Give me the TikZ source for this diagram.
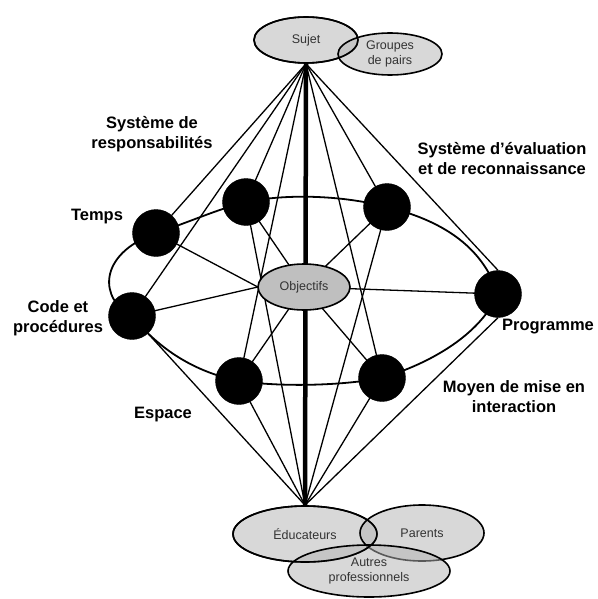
\documentclass[tikz,border=0pt]{standalone}
\usepackage{fontspec}
\setmainfont{Liberation Sans}
\usetikzlibrary{shapes.geometric}
\begin{document}
\begin{tikzpicture}[x=1pt,y=-1pt,
  lbl/.style={font=\bfseries\fontsize{16.5}{20}\selectfont, align=center, text=black, inner sep=0pt},
  oval/.style={ellipse, draw=black, line width=1.6pt, fill=black!30, fill opacity=0.5, text opacity=1,
    text=black!80, font=\fontsize{12.5}{15}\selectfont, align=center, inner sep=0pt},
  hub/.style={ellipse, draw=none, fill=none, inner sep=0pt},
  dot/.style={circle, fill=black, draw=black, minimum size=47pt, inner sep=0pt},
  link/.style={line width=1.3pt},
  ring/.style={line width=1.8pt}]
\useasboundingbox (0,0) rectangle (597,599);

% positions
\coordinate (cT) at (156,233);
\coordinate (cTL) at (246,202);
\coordinate (cTR) at (387,207);
\coordinate (cP) at (498,294);
\coordinate (cBR) at (382,378);
\coordinate (cBL) at (239,381);
\coordinate (cC) at (132,316);

% ellipses (background)
\node[oval, minimum width=104pt, minimum height=46pt] (sujet) at (306,40) {Sujet};
\node[oval, minimum width=144pt, minimum height=56pt] (educ) at (305,534) {Éducateurs};
\node[hub, minimum width=47pt, minimum height=47pt] (temps) at (cT) {};
\node[hub, minimum width=47pt, minimum height=47pt] (tl) at (cTL) {};
\node[hub, minimum width=47pt, minimum height=47pt] (tr) at (cTR) {};
\node[hub, minimum width=47pt, minimum height=47pt] (prog) at (cP) {};
\node[hub, minimum width=47pt, minimum height=47pt] (br) at (cBR) {};
\node[hub, minimum width=47pt, minimum height=47pt] (bl) at (cBL) {};
\node[hub, minimum width=47pt, minimum height=47pt] (code) at (cC) {};
\node[hub, minimum width=92pt, minimum height=46pt] (objx) at (304,287) {};

% thick axis
\draw[line width=4.5pt] (sujet.south) -- (educ.north);

% ring
\draw[ring] (temps.center) .. controls (190,222) and (215,210) .. (tl.center)
  .. controls (290,193) and (345,196) .. (tr.center)
  .. controls (440,220) and (482,245) .. (prog.center)
  .. controls (482,330) and (440,360) .. (br.center)
  .. controls (340,386) and (280,387) .. (bl.center)
  .. controls (195,372) and (160,350) .. (code.center)
  .. controls (100,300) and (96,255) .. (temps.center);

% fan from Sujet
\draw[link] (sujet.south) -- (temps.center);
\draw[link] (sujet.south) -- (code.center);
\draw[link] (sujet.south) -- (tl.center);
\draw[link] (sujet.south) -- (bl.center);
\draw[link] (sujet.south) -- (br.center);
\draw[link] (sujet.south) -- (tr.center);
\draw[link] (sujet.south) -- (prog.north);

% fan from Educateurs
\draw[link] (educ.north) -- (code.center);
\draw[link] (educ.north) -- (bl.center);
\draw[link] (educ.north) -- (tl.center);
\draw[link] (educ.north) -- (tr.center);
\draw[link] (educ.north) -- (br.center);
\draw[link] (educ.north) -- (prog.south);

% spokes to Objectifs
\draw[link] (temps.center) -- (objx.west);
\draw[link] (code.center) -- (objx.west);
\draw[link] (tl.center) -- (objx);
\draw[link] (bl.center) -- (objx);
\draw[link] (tr.center) -- (objx);
\draw[link] (br.center) -- (objx);
\draw[link] (prog.center) -- (objx);

% Objectifs
\node[ellipse, draw=black, line width=1.6pt, fill=black!25, text=black!80,
  font=\fontsize{12.5}{15}\selectfont, inner sep=0pt, minimum width=92pt, minimum height=46pt] (obj) at (304,287) {Objectifs};

% other ellipses
\node[oval, minimum width=104pt, minimum height=42pt] (pairs) at (390,54) {Groupes\\de pairs};
\node[oval, minimum width=124pt, minimum height=56pt] (parents) at (422,533) {Parents};
\node[oval, minimum width=162pt, minimum height=52pt] (autres) at (369,571) {Autres\\professionnels};
\node[ellipse, draw=black, line width=1.6pt, fill=none, minimum width=144pt, minimum height=56pt] (educb) at (305,534) {};
\node[ellipse, draw=black, line width=1.6pt, fill=none, minimum width=104pt, minimum height=46pt] (sujetb) at (306,40) {};

% black circles
\node[dot] (dT) at (cT) {};
\node[dot] (dTL) at (cTL) {};
\node[dot] (dTR) at (cTR) {};
\node[dot] (dP) at (cP) {};
\node[dot] (dBR) at (cBR) {};
\node[dot] (dBL) at (cBL) {};
\node[dot] (dC) at (cC) {};

% labels
\node[lbl] (l1) at (152,134) {Système de\\responsabilités};
\node[lbl] (l2) at (97,217) {Temps};
\node[lbl] (l3) at (58,318) {Code et\\procédures};
\node[lbl] (l4) at (163,415) {Espace};
\node[lbl] (l5) at (502,159) {Système d’évaluation\\et de reconnaissance};
\node[lbl] (l6) at (548,327) {Programme};
\node[lbl] (l7) at (514,397) {Moyen de mise en\\interaction};
\end{tikzpicture}
\end{document}
